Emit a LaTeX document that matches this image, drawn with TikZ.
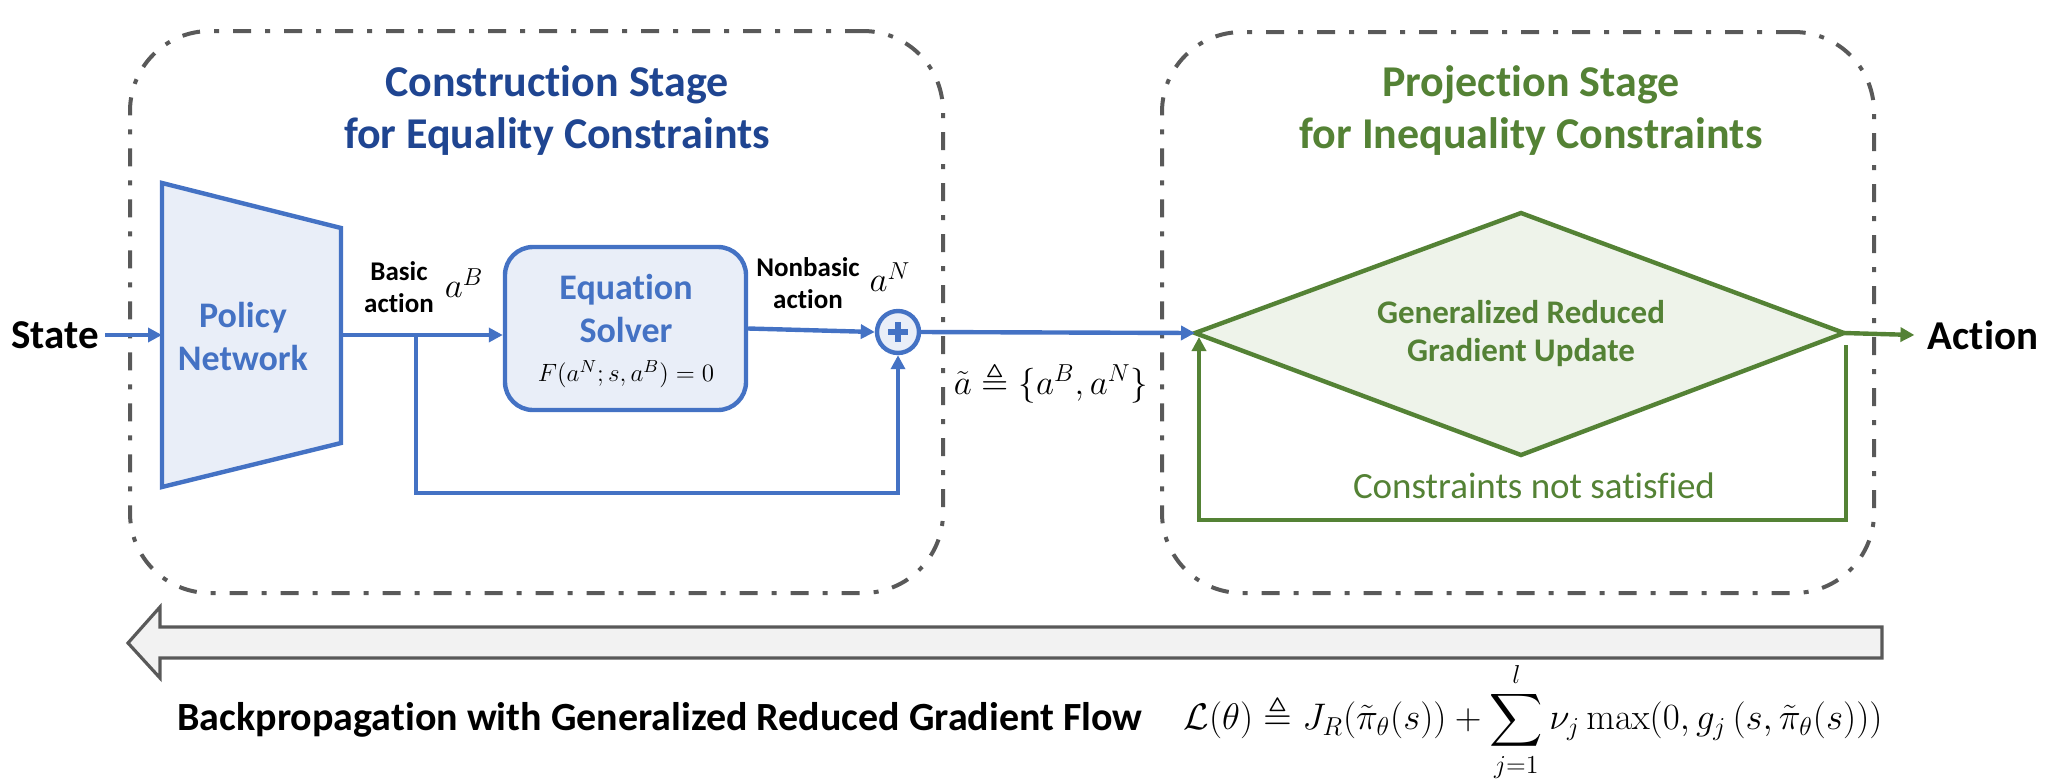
\RequirePackage{fix-cm}
\documentclass[tikz,border=0pt]{standalone}
\usepackage{amsmath,amssymb}
\usepackage[no-math]{fontspec}
\setmainfont[RawFeature=-liga]{Carlito}
\usetikzlibrary{arrows.meta,calc}
\definecolor{cblue}{HTML}{4472C4}
\definecolor{ctitleblue}{HTML}{1F4591}
\definecolor{cgreen}{HTML}{548235}
\definecolor{cgray}{HTML}{595959}
\definecolor{cpolicy}{HTML}{E9EEF8}
\definecolor{cdiam}{HTML}{EEF3EA}
\definecolor{carrowfill}{HTML}{F2F2F2}
\begin{document}
\begin{tikzpicture}[x=0.5pt,y=-0.5pt,
  blueline/.style={draw=cblue,line width=2.2pt},
  greenline/.style={draw=cgreen,line width=2.2pt},
  arr/.style={-{Triangle[length=7pt,width=7pt]}},
  stagebox/.style={draw=cgray,line width=2pt,rounded corners=40pt,
     dash pattern=on 9pt off 7pt on 2.5pt off 7pt,inner sep=0pt},
  txt/.style={inner sep=0pt,align=center},
  stagetitle/.style={txt,font=\fontsize{22}{26}\selectfont\bfseries},
  bigbold/.style={txt,font=\fontsize{20.5}{23}\selectfont\bfseries},
  midbold/.style={txt,font=\fontsize{18}{21.5}\selectfont\bfseries,text=cblue},
  smallbold/.style={txt,font=\fontsize{13.5}{16}\selectfont\bfseries},
  mathbig/.style={txt,font=\fontsize{17.5}{20}\selectfont},
]
\useasboundingbox (0,0) rectangle (2046,778);

% stage boxes
\node[stagebox,minimum width=406.5pt,minimum height=281pt] (cbox) at (536.5,312) {};
\node[stagebox,minimum width=356pt,minimum height=280.5pt] (pbox) at (1518,312.5) {};

% titles
\node[stagetitle,text=ctitleblue] (ctitle) at (557,111) {Construction Stage\\for Equality Constraints};
\node[stagetitle,text=cgreen] (ptitle) at (1531,111) {Projection Stage\\for Inequality Constraints};

% policy network trapezoid
\coordinate (ptl) at (162,183);
\coordinate (ptr) at (341,228);
\coordinate (pbr) at (341,443);
\coordinate (pbl) at (162,487);
\coordinate (pin) at (162,335);
\coordinate (pout) at (341,335);
\draw[blueline,fill=cpolicy] (ptl) -- (ptr) -- (pbr) -- (pbl) -- cycle;
\node[midbold] (pn) at (243,336) {Policy\\Network};

% state
\node[bigbold] (state) at (55,335) {State};
\draw[blueline,arr] ($(state.east)+(6,0)$) -- (pin);

% equation solver
\node[draw=cblue,line width=2.2pt,fill=cpolicy,rounded corners=14pt,
      minimum width=120.5pt,minimum height=81.5pt,inner sep=0pt] (solver) at (625.5,328.5) {};
\node[midbold] (soltext) at (626,308.5) {Equation\\Solver};
\node[txt,font=\fontsize{12.5}{14}\selectfont] (solf) at (626,374) {$F(a^N;s,a^B)=0$};

% basic action
\node[smallbold] (basic) at (399,287) {Basic\\action};
\node[mathbig] (aB) at (464,283) {$a^B$};
\draw[blueline,arr] (pout) -- (pout -| solver.west);

% sum node
\node[circle,draw=cblue,line width=2.2pt,fill=cpolicy,minimum size=21pt,inner sep=0pt] (sum) at (898,332) {};
\draw[cblue,line width=2.6pt] ($(sum)+(-10,0)$) -- ($(sum)+(10,0)$);
\draw[cblue,line width=2.6pt] ($(sum)+(0,-10)$) -- ($(sum)+(0,10)$);

\node[smallbold] (nonbasic) at (808,283) {Nonbasic\\action};
\node[mathbig] (aN) at (890,277) {$a^N$};
\draw[blueline,arr] (solver.east) -- (sum.west);

% skip connection
\coordinate (branch) at (416,335);
\coordinate (skipbot) at (416,493);
\draw[blueline,arr] (branch) -- (skipbot) -| (sum.south);

% diamond
\coordinate (dt) at (1521,213);
\coordinate (dr) at (1844,333);
\coordinate (db) at (1521,455);
\coordinate (dl) at (1195,333);
\draw[greenline,fill=cdiam,line join=miter] (dl) -- (dt) -- (dr) -- (db) -- cycle;
\node[txt,font=\fontsize{16.5}{19}\selectfont\bfseries,text=cgreen] (grg) at (1521,334) {Generalized Reduced\\Gradient Update};

\draw[blueline,arr] (sum.east) -- (dl);
\node[mathbig] (atilde) at (1051,383) {$\tilde{a}\triangleq\{a^B,a^N\}$};

% action
\node[bigbold] (action) at (1983,335) {Action};
\draw[greenline,arr] (dr) -- ($(action.west)+(-13,0)$);

% loop
\coordinate (lr) at (1846,345);
\coordinate (lbr) at (1846,520);
\coordinate (lbl) at (1199,520);
\coordinate (ltop) at (1199,337);
\draw[greenline,arr] (lr) -- (lbr) -- (lbl) -- (ltop);
\node[txt,font=\fontsize{18.5}{20}\selectfont,text=cgreen] (notsat) at (1534,486) {Constraints not satisfied};

% backprop arrow
\draw[draw=cgray,fill=carrowfill,line width=1.6pt,line join=miter]
  (1882,627) -- (160,627) -- (160,607) -- (128,643) -- (160,678) -- (160,658) -- (1882,658) -- cycle;
\node[txt,font=\fontsize{20}{23}\selectfont\bfseries] (bp) at (660,720) {Backpropagation with Generalized Reduced Gradient Flow};
\node[txt,font=\fontsize{18.5}{20}\selectfont] (loss) at (1533,722)
  {$\displaystyle \mathcal{L}(\theta)\triangleq J_R(\tilde{\pi}_\theta(s))+\sum_{j=1}^{l}\nu_j\max(0,g_j\,(s,\tilde{\pi}_\theta(s)))$};
\end{tikzpicture}
\end{document}
